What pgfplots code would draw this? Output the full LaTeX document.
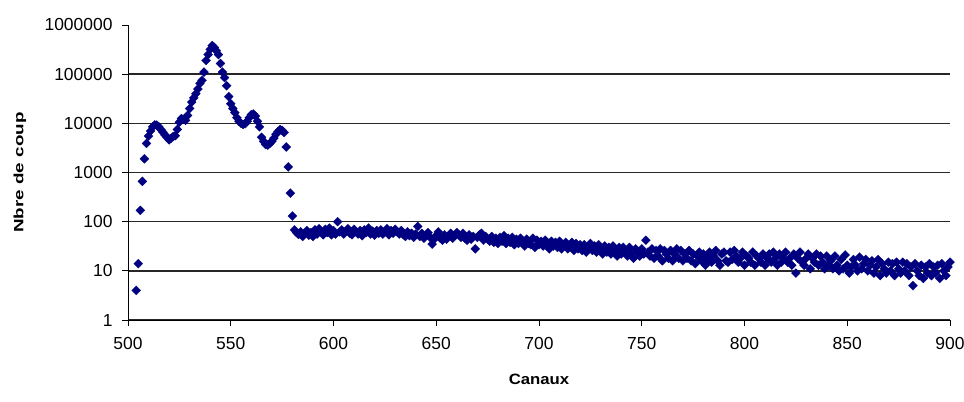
\documentclass[border=0pt]{standalone}
\usepackage{fontspec}
\setmainfont{Liberation Sans}
\usepackage{graphicx}
\usepackage{pgfplots}
\pgfplotsset{compat=1.18}
\definecolor{navy}{RGB}{0,0,128}
\begin{document}
\begin{tikzpicture}[x=1bp,y=1bp]
\useasboundingbox (-128,-81) rectangle (836,320);
\begin{axis}[
  at={(0,0)}, anchor=south west,
  scale only axis, width=822bp, height=295bp,
  xmin=500, xmax=900, ymode=log, ymin=1, ymax=1000000,
  axis x line*=bottom, axis y line*=left,
  axis line style={-, black, line width=0.9bp},
  xtick={500,550,...,900},
  ytick={1,10,100,1000,10000,100000},
  yticklabels={1,10,100,1000,10000,100000},
  extra y ticks={1000000}, extra y tick labels={1000000},
  extra y tick style={grid=none},
  ymajorgrids, grid style={black!85, line width=1.4bp},
  tick style={black, line width=0.8bp}, major tick length=6bp, tick align=outside,
  minor tick num=0, yminorticks=false,
  /pgf/number format/assume math mode=true,
  ticklabel style={font=\fontsize{17.5}{19}\selectfont},
  xticklabel style={yshift=-8bp},
  yticklabel style={xshift=-6bp},
  xlabel={\scalebox{1.12}[1]{\fontsize{15}{18}\selectfont\bfseries Canaux}},
  ylabel={\scalebox{1.4}[1]{\fontsize{13.5}{16}\selectfont\bfseries Nbre de coup}},
  xlabel style={at={(rel axis cs:0.5,-0.2)}, anchor=center},
  ylabel style={at={(rel axis cs:-0.1314,0.5)}, anchor=center},
  clip=false,
]
\addplot[only marks, mark=square*, mark size=3.2bp, mark options={rotate=45, draw=navy, fill=navy, line width=0.2bp}] coordinates {
(504,4)(505,14)(506,170)(507,660)(508,1900)(509,3900)(510,5500)(511,7000)(512,8500)(513,9300)
(514,9200)(515,8500)(516,7500)(517,6600)(518,5800)(519,5200)(520,4600)(521,5000)(522,5400)(523,5600)
(524,7500)(525,10500)(526,12500)(527,12000)(528,11500)(529,14500)(530,20000)(531,27000)(532,33000)(533,40000)
(534,50000)(535,65000)(536,75000)(537,110000)(538,190000)(539,250000)(540,320000)(541,380000)(542,350000)(543,300000)
(544,250000)(545,165000)(546,110000)(547,85000)(548,58000)(549,35000)(550,25000)(551,20000)(552,16500)(553,13000)
(554,11000)(555,10000)(556,9500)(557,9800)(558,11000)(559,13000)(560,15000)(561,15500)(562,14000)(563,11000)
(564,8500)(565,5200)(566,4300)(567,3700)(568,3600)(569,3900)(570,4300)(571,5000)(572,6000)(573,6800)
(574,7500)(575,7200)(576,6500)(577,3300)(578,1300)(579,380)(580,130)(581,68)
(582,60)(583,55)(584,62)(585,50)(586,58)(587,66)(588,53)(589,60)(590,50)(591,68)
(592,56)(593,72)(594,62)(595,54)(596,70)(597,60)(598,74)(599,54)(600,66)(601,56)
(602,100)(603,62)(604,68)(605,56)(606,64)(607,72)(608,58)(609,54)(610,70)(611,62)
(612,56)(613,66)(614,52)(615,68)(616,60)(617,74)(618,56)(619,64)(620,53)(621,66)
(622,58)(623,68)(624,56)(625,62)(626,72)(627,54)(628,66)(629,58)(630,70)(631,62)
(632,56)(633,66)(634,54)(635,50)(636,62)(637,52)(638,58)(639,48)(640,56)(641,80)
(642,50)(643,58)(644,46)(645,54)(646,60)(647,48)(648,35)(649,44)(650,52)(651,62)
(652,46)(653,42)(654,54)(655,44)(656,50)(657,58)(658,46)(659,52)(660,60)(661,54)
(662,48)(663,58)(664,46)(665,42)(666,54)(667,44)(668,50)(669,28)(670,48)(671,54)
(672,58)(673,42)(674,50)(675,44)(676,40)(677,50)(678,38)(679,46)(680,36)(681,48)
(682,40)(683,52)(684,36)(685,46)(686,38)(687,48)(688,34)(689,44)(690,36)(691,46)
(692,40)(693,32)(694,44)(695,36)(696,34)(697,46)(698,30)(699,42)(700,34)(701,40)
(702,32)(703,42)(704,36)(705,28)(706,40)(707,32)(708,38)(709,30)(710,40)(711,28)
(712,34)(713,38)(714,28)(715,32)(716,38)(717,26)(718,36)(719,28)(720,34)(721,26)
(722,34)(723,24)(724,30)(725,36)(726,26)(727,32)(728,24)(729,34)(730,28)(731,22)
(732,32)(733,24)(734,30)(735,22)(736,32)(737,26)(738,20)(739,30)(740,22)(741,30)
(742,26)(743,20)(744,30)(745,22)(746,18)(747,28)(748,24)(749,20)(750,28)(751,22)
(752,42)(753,24)(754,20)(755,28)(756,18)(757,26)(758,20)(759,28)(760,16)(761,26)
(762,22)(763,18)(764,26)(765,16)(766,22)(767,28)(768,18)(769,26)(770,16)(771,22)
(772,18)(773,26)(774,16)(775,22)(776,14)(777,20)(778,24)(779,16)(780,22)(781,13)
(782,18)(783,24)(784,15)(785,20)(786,26)(787,16)(788,13)(789,22)(790,24)(791,16)
(792,15)(793,24)(794,17)(795,26)(796,20)(797,15)(798,18)(799,24)(800,13)(801,20)
(802,18)(803,15)(804,24)(805,13)(806,20)(807,18)(808,15)(809,22)(810,13)(811,18)
(812,22)(813,15)(814,24)(815,18)(816,13)(817,22)(818,15)(819,18)(820,24)(821,15)
(822,18)(823,13)(824,22)(825,9)(826,18)(827,24)(828,15)(829,13)(830,18)(831,22)
(832,11)(833,18)(834,15)(835,22)(836,13)(837,20)(838,15)(839,11)(840,20)(841,13)
(842,16)(843,11)(844,20)(845,13)(846,10)(847,17)(848,11)(849,21)(850,13)(851,9)
(852,12)(853,17)(854,13)(855,10)(856,19)(857,11)(858,14)(859,17)(860,10)(861,13)
(862,16)(863,9)(864,12)(865,17)(866,8)(867,14)(868,11)(869,9)(870,15)(871,10)
(872,14)(873,8)(874,15)(875,11)(876,9)(877,15)(878,10)(879,14)(880,8)(881,12)
(882,5)(883,14)(884,10)(885,8)(886,13)(887,7)(888,12)(889,9)(890,14)(891,8)
(892,12)(893,9)(894,13)(895,7)(896,14)(897,10)(898,8)(899,12)(900,15)
};
\end{axis}
\end{tikzpicture}
\end{document}
